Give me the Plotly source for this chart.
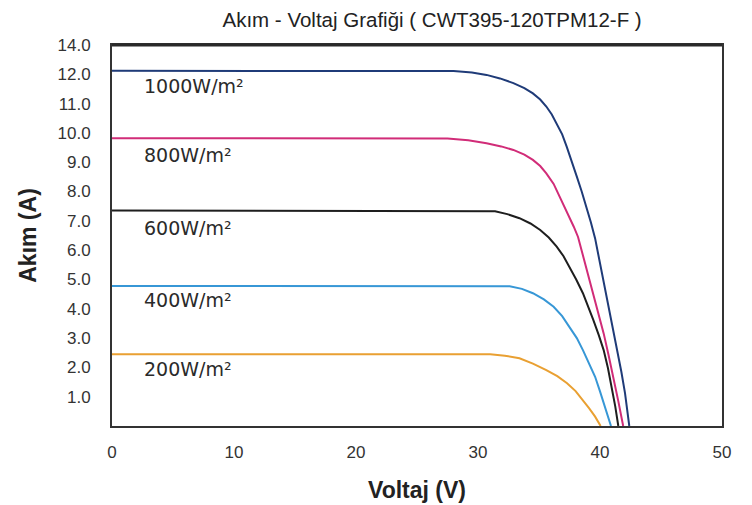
import plotly.graph_objects as go

# Data
v_1000 = [0, 10, 20, 25, 28, 29.5, 30.7, 31.8, 32.9, 33.8, 34.5, 35.1, 35.6, 36.05, 36.45, 36.9, 37.27, 37.7, 38.1, 38.5, 38.9, 39.25, 39.6, 40.1, 40.55, 41.0, 41.37, 41.75, 42.05, 42.4]
i_1000 = [12.12, 12.12, 12.12, 12.12, 12.11, 12.06, 11.98, 11.86, 11.70, 11.53, 11.35, 11.14, 10.9, 10.63, 10.33, 9.95, 9.53, 9.04, 8.51, 8.0, 7.48, 6.95, 6.40, 5.35, 4.3, 3.40, 2.62, 1.85, 1.12, 0]

v_800 = [0, 10, 20, 25, 27.5, 29.2, 30.7, 31.9, 32.9, 33.8, 34.5, 35.1, 35.6, 36.2, 36.7, 37.1, 37.5, 37.85, 38.2, 38.7, 39.2, 39.75, 40.3, 40.7, 41.1, 41.5, 41.9]
i_800 = [9.82, 9.82, 9.82, 9.82, 9.81, 9.75, 9.65, 9.54, 9.42, 9.26, 9.08, 8.87, 8.62, 8.26, 7.83, 7.50, 7.14, 6.80, 6.45, 5.68, 4.87, 4.02, 3.16, 2.42, 1.68, 0.85, 0]

v_600 = [0, 10, 20, 25, 30, 31.4, 32.4, 33.4, 34.3, 35.1, 35.8, 36.45, 37.0, 37.5, 38.05, 38.6, 39.05, 39.45, 39.9, 40.3, 40.65, 40.96, 41.25, 41.5]
i_600 = [7.35, 7.35, 7.35, 7.35, 7.35, 7.33, 7.23, 7.09, 6.91, 6.69, 6.43, 6.12, 5.80, 5.44, 5.00, 4.53, 4.08, 3.62, 3.10, 2.59, 1.98, 1.34, 0.67, 0]

v_400 = [0, 10, 20, 25, 30, 32.6, 33.6, 34.5, 35.4, 36.2, 36.9, 37.5, 38.1, 38.6, 39.1, 39.6, 40.0, 40.4, 40.65, 40.9]
i_400 = [4.78, 4.78, 4.78, 4.78, 4.78, 4.77, 4.68, 4.53, 4.32, 4.07, 3.75, 3.39, 3.00, 2.59, 2.15, 1.68, 1.18, 0.66, 0.33, 0]

v_200 = [0, 10, 20, 25, 30, 31.0, 32.2, 33.4, 34.5, 35.6, 36.5, 37.3, 38.0, 38.6, 39.1, 39.6, 39.85, 40.05]
i_200 = [2.45, 2.45, 2.45, 2.45, 2.45, 2.45, 2.40, 2.31, 2.13, 1.91, 1.70, 1.46, 1.19, 0.89, 0.61, 0.32, 0.16, 0]

series_names = ["1000W/m²", "800W/m²", "600W/m²", "400W/m²", "200W/m²"]
label_x = [2.45, 2.45, 2.45, 2.45, 2.45]
label_y = [11.6, 9.25, 6.76, 4.3, 1.95]

y_tickvals = [1, 2, 3, 4, 5, 6, 7, 8, 9, 10, 11, 12, 13]
y_ticktext = ["1.0", "2.0", "3.0", "4.0", "5.0", "6.0", "7.0", "8.0", "9.0", "10.0", "11.0", "12.0", "14.0"]
x_tickvals = [0, 10, 20, 30, 40, 50]

title_text = "Akım - Voltaj Grafiği ( CWT395-120TPM12-F )"

colors = ["#1f3b78", "#d12c78", "#1e1e1e", "#3797d6", "#e9a032"]
curves = [(v_1000, i_1000), (v_800, i_800), (v_600, i_600), (v_400, i_400), (v_200, i_200)]

fig = go.Figure()
for (vx, iy), name, c in zip(curves, series_names, colors):
    fig.add_trace(go.Scatter(x=vx, y=iy, mode="lines", name=name,
                             line=dict(color=c, width=2),
                             showlegend=False))

for name, lx, ly in zip(series_names, label_x, label_y):
    fig.add_annotation(x=lx, y=ly, text=name, showarrow=False, xanchor="left", yanchor="middle",
                       font=dict(family="DejaVu Sans", size=19, color="#2a2a2a"))

# thicker top border like the reference
fig.add_shape(type="line", xref="paper", yref="paper", x0=0, x1=1, y0=1, y1=1,
              line=dict(color="#2a2a2a", width=3))

# page body has an 8px margin, so the figure is 8px smaller and margins shifted
fig.update_layout(
    width=744, height=497,
    margin=dict(l=104, r=30, t=37, b=79, autoexpand=False),
    paper_bgcolor="white", plot_bgcolor="white",
    title=dict(text=title_text, x=0.57, xanchor="center", y=0.976, yanchor="middle",
               font=dict(family="Liberation Sans", size=20.5, color="#222")),
    font=dict(family="Liberation Sans", color="#222"),
)
fig.update_xaxes(range=[0, 50], tickvals=x_tickvals, showgrid=False, zeroline=False,
                 showline=True, mirror=True, linecolor="#333", linewidth=2, automargin=False,
                 ticks="", ticklabelstandoff=10, tickfont=dict(size=17, color="#333"),
                 title=dict(text="<b>Voltaj (V)</b>", font=dict(size=23, color="#222"), standoff=20))
fig.update_yaxes(range=[0, 13], tickvals=y_tickvals, ticktext=y_ticktext, showgrid=False, zeroline=False,
                 showline=True, mirror=True, linecolor="#333", linewidth=2, automargin=False,
                 ticks="", ticklabelstandoff=16, tickfont=dict(size=17, color="#333"),
                 title=dict(text="<b>Akım (A)</b>", font=dict(size=23, color="#222"), standoff=14))

fig.write_html("out.html")
